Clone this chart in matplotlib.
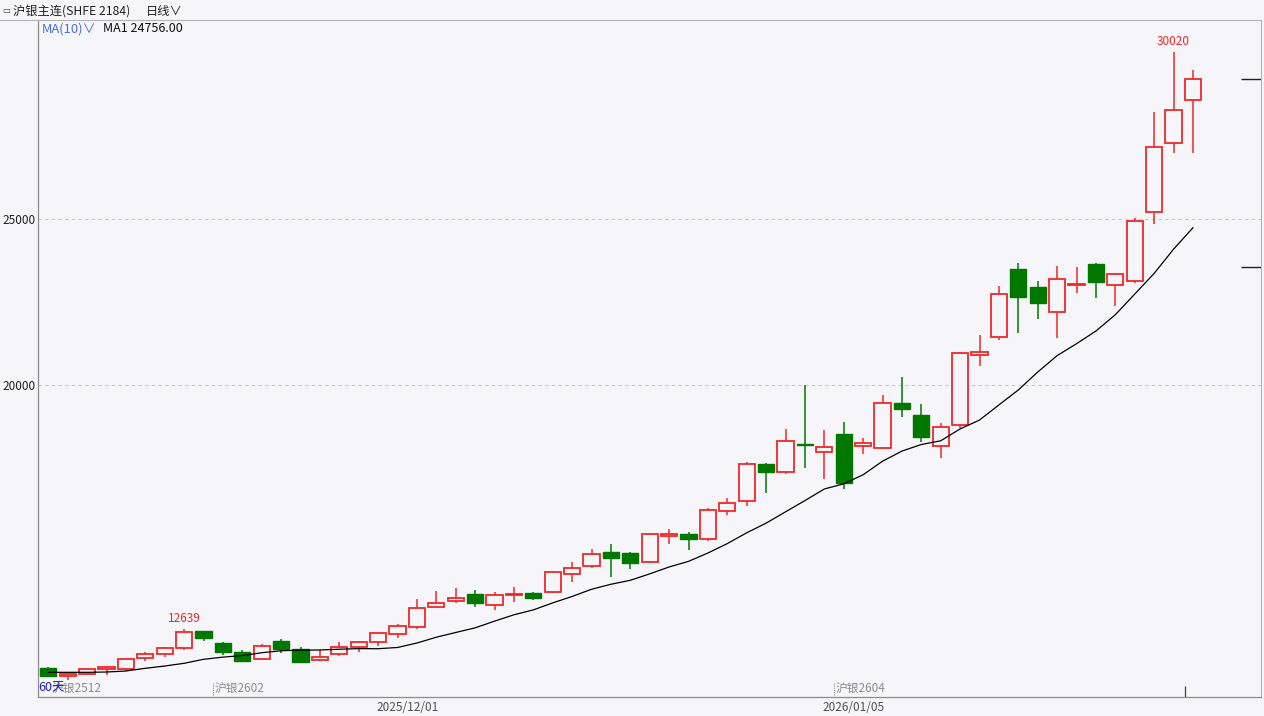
import matplotlib
matplotlib.use("Agg")
import matplotlib.pyplot as plt
import matplotlib.transforms as mtransforms
import numpy as np
import pandas as pd

plt.rcParams['font.family'] = ['Noto Sans CJK SC', 'DejaVu Sans']

# ---------------------------------------------------------------- data
# 60 daily bars of the silver main contract (SHFE)
opens = [11476, 11235, 11295, 11455, 11455, 11786, 11898, 12087, 12590, 12220,
         11967, 11747, 12298, 12057, 11726, 11898, 12100, 12250, 12509, 12720,
         13304, 13485, 13705, 13389, 13669, 13741, 13756, 14301, 14539, 14976,
         14955, 14669, 15443, 15512, 15353, 16196, 16497, 17630, 17380, 18223,
         17991, 18515, 18172, 18111, 19449, 19096, 18172, 18786, 20895, 21437,
         23485, 22961, 22190, 23003, 23654, 23003, 23142, 25202, 27280, 28575]
highs = [11506, 11300, 11450, 11515, 11740, 11967, 12118, 12639, 12600, 12268,
         12018, 12190, 12340, 12118, 12018, 12250, 12298, 12545, 12792, 13545,
         13795, 13886, 13834, 13756, 13931, 13760, 14413, 14669, 15054, 15211,
         14965, 15551, 15654, 15573, 16295, 16587, 17681, 17650, 18666, 20000,
         18645, 18877, 18395, 19699, 20250, 19437, 18846, 20985, 21506, 22991,
         23675, 23123, 23584, 23554, 23675, 23373, 25021, 28214, 30020, 29488]
lows = [11205, 11115, 11275, 11255, 11375, 11687, 11816, 12027, 12298, 11868,
        11690, 11740, 11919, 11636, 11696, 11847, 11949, 12148, 12371, 12660,
        13300, 13425, 13304, 13238, 13458, 13515, 13729, 14060, 14479, 14226,
        14449, 14630, 15211, 15030, 15310, 16075, 16346, 16738, 17319, 17491,
        17169, 16858, 17913, 18063, 19027, 18292, 17792, 18714, 20581, 21355,
        21557, 21979, 21425, 22762, 22611, 22389, 23081, 24858, 26979, 26997]
closes = [11235, 11285, 11437, 11497, 11738, 11889, 12069, 12569, 12371, 11949,
          11696, 12148, 12039, 11666, 11798, 12118, 12250, 12539, 12741, 13292,
          13443, 13575, 13434, 13684, 13711, 13593, 14362, 14479, 14904, 14798,
          14648, 15503, 15512, 15371, 16226, 16437, 17611, 17380, 18313, 18184,
          18142, 17057, 18244, 19449, 19277, 18425, 18726, 20955, 20985, 22741,
          22642, 22461, 23184, 23033, 23102, 23334, 24940, 27178, 28274, 29208]
# MA10 for the first 9 bars uses days before the window
ma_head = [11346, 11346, 11346, 11356, 11386, 11467, 11536, 11618, 11738]
ma_last = "24756.00"

peak_idx = [7, 58]                       # bars whose high is labelled
grid_levels = [20000, 25000]
date_pos = [18.5, 41.5]
date_labels = ["2025/12/01", "2026/01/05"]
roll_pos = [8.5, 40.5]
roll_labels = ["沪银2602", "沪银2604"]
right_marks = [29208, 23545]

BG = "#F5F5FA"
RED = "#F02828"
GREEN = "#007800"
W, H = 1264, 716

# ---------------------------------------------------------------- figure
fig = plt.figure(figsize=(W / 100, H / 100), dpi=100, facecolor=BG)
ax = fig.add_axes([38 / W, 19 / H, 1223 / W, 677 / H], facecolor=BG)

n = len(closes)
x = np.arange(n)
o = np.array(opens, float); c = np.array(closes, float)
hi = np.array(highs, float); lo = np.array(lows, float)
up = c >= o

ma = pd.Series(closes, dtype=float).rolling(10).mean()
ma.iloc[:len(ma_head)] = ma_head

for lvl in grid_levels:
    ax.axhline(lvl, color="#C8C8C8", lw=0.8, ls=(0, (3, 3)), zorder=0)

cols = np.where(up, RED, GREEN)
ax.vlines(x, lo, hi, colors=cols, lw=1.1, zorder=2)
bottom = np.minimum(o, c)
height = np.maximum(np.abs(c - o), 25)
ax.bar(x[up], height[up], bottom=bottom[up], width=0.84, facecolor=BG,
       edgecolor=RED, lw=1.3, zorder=3)
ax.bar(x[~up], height[~up], bottom=bottom[~up], width=0.84, facecolor=GREEN,
       edgecolor=GREEN, lw=1.0, zorder=3)

ax.plot(x, ma, color="black", lw=0.9, zorder=4)

for i in peak_idx:
    ax.text(x[i], hi[i] + 130, f"{int(hi[i])}", color=RED, fontsize=8.5,
            ha="center", va="bottom")

ax.set_xlim(-0.531, 62.51)
ax.set_ylim(10603, 30994)
ax.set_xticks([])
ax.set_yticks(grid_levels)
ax.set_yticklabels([str(v) for v in grid_levels])
ax.tick_params(axis="y", length=0, pad=2, labelsize=8.5, labelcolor="#202020")
for s in ["left", "bottom"]:
    ax.spines[s].set_color("#8C8C8C"); ax.spines[s].set_linewidth(0.9)
for s in ["top", "right"]:
    ax.spines[s].set_color("#B4B4B4"); ax.spines[s].set_linewidth(0.8)

# markers on the right edge and bottom
ax.hlines(right_marks, 61.5, 62.51, colors="#202020", lw=1.0, clip_on=False)
bt = mtransforms.blended_transform_factory(ax.transData, ax.transAxes)
ax.vlines([58.6], 0, 0.016, colors="#404040", lw=0.9, transform=bt)

# contract roll markers
for p, lab in zip(roll_pos, roll_labels):
    ax.vlines([p], 0.003, 0.02, colors="#909090", lw=0.8, ls=(0, (1, 1)),
              transform=bt)
    ax.text(p + 0.07, 0.013, lab, transform=bt, color="#8C8C8C", fontsize=8.5,
            ha="left", va="center")
# the first roll label sits under the "60天" tag, as on the source screen
ax.text(0.011, 0.013, "沪银2512", transform=ax.transAxes, color="#8C8C8C",
        fontsize=8.5, ha="left", va="center")
ax.text(0.0, 0.013, "60天", transform=ax.transAxes, color="#1E1EC8",
        fontsize=9, ha="left", va="center")

# date axis
for p, lab in zip(date_pos, date_labels):
    ax.text(p, -0.015, lab, transform=bt, color="#505050", fontsize=8.5,
            ha="center", va="center")

# header
fig.add_artist(plt.Line2D([0, 38 / W], [1 - 20 / H, 1 - 20 / H],
                          color="#B4B4B4", lw=0.8))
fig.text(2 / W, 1 - 11 / H, "▭", color="#404040", fontsize=6,
         ha="left", va="center", family=["DejaVu Sans"])
fig.text(13 / W, 1 - 11 / H, "沪银主连(SHFE 2184)", color="#202020",
         fontsize=8.8, ha="left", va="center")
fig.text(146 / W, 1 - 11 / H, "日线∨", color="#202020", fontsize=8.8,
         ha="left", va="center", family=["Noto Sans CJK SC", "DejaVu Sans"])
fig.text(42 / W, 1 - 29 / H, "MA(10)∨", color="#4A6CE0", fontsize=9.3,
         ha="left", va="center", family=["Noto Sans CJK SC", "DejaVu Sans"])
fig.text(103 / W, 1 - 29 / H, f"MA1 {ma_last}", color="#101010", fontsize=9,
         ha="left", va="center")

fig.savefig("out.png", dpi=100, facecolor=BG)
